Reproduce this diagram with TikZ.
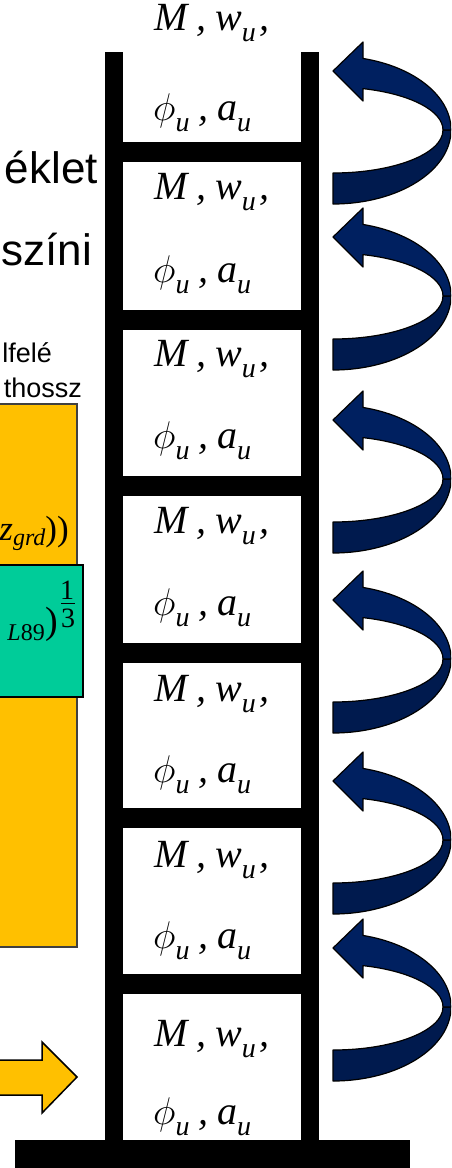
\documentclass[tikz,border=0pt]{standalone}
\usepackage{fontspec}
\usepackage{tikz}
\usetikzlibrary{positioning}
\usepackage{xcolor}

\newfontfamily\arl{Liberation Sans}
\newfontfamily\tms{Liberation Serif}
\definecolor{spinblue}{HTML}{002060}
\definecolor{spindark}{HTML}{001A4E}
\definecolor{boxorange}{HTML}{FFC000}
\definecolor{boxgreen}{HTML}{00CC99}
\newcommand{\subu}{\raisebox{-0.28em}{\fontsize{28}{28}\selectfont u}}
\newcommand{\gap}{\hspace{0.22em}}
\newcommand{\bigphi}{\scalebox{1.55}{$\phi$}}

\tikzset{
  cell/.style={anchor=base west, inner sep=0pt, font=\tms\itshape\fontsize{40}{42}\selectfont},
  slidebig/.style={anchor=base east, inner sep=0pt, font=\arl\fontsize{44}{50}\selectfont},
  slidesmall/.style={anchor=base east, inner sep=0pt, font=\arl\fontsize{27}{30}\selectfont},
  formula/.style={inner sep=0pt, font=\tms\fontsize{35}{40}\selectfont},
  twist/.style={draw=black, line width=1.2pt, line join=round},
}

\begin{document}
\begin{tikzpicture}[x=1pt, y=-1pt, >=stealth]

    \useasboundingbox (0,0) rectangle (451,1168);
    \clip (0,0) rectangle (451,1168);

    % slide text on the left
    \node[slidebig] (eklet) at (98,183) {éklet};
    \node[slidebig] (szini) at (92,265) {színi};
    \node[slidesmall] (lfele) at (52,362) {lfelé};
    \node[slidesmall] (thossz) at (82,397) {thossz};

    % formula boxes
    \draw[fill=boxorange, draw=black!75, line width=1.5pt] (-5,404) rectangle (77,947);
    \node[formula, anchor=base east] (zgrd) at (69,540)
        {\itshape z\raisebox{-5pt}{\fontsize{24}{24}\selectfont grd}\upshape))};
    \draw[fill=boxgreen, draw=black, line width=1.5pt] (-5,565) rectangle (83,697);
    \node[formula, anchor=base east, font=\tms\fontsize{38}{40}\selectfont] (paren) at (58,633) {)};
    \node[formula, anchor=base east, font=\tms\fontsize{24}{26}\selectfont] (lsub) at (45,640) {\itshape L\upshape 89};
    \node[formula, font=\tms\fontsize{28}{30}\selectfont] (one) at (67,590) {1};
    \node[formula, font=\tms\fontsize{28}{30}\selectfont] (three) at (68,618) {3};
    \draw[line width=1pt] (61,603.5) -- (75,603.5);

    % input arrow
    \draw[fill=boxorange, draw=black, line width=1.5pt, line join=miter]
        (-5,1060) -- (42,1060) -- (42,1042) -- (77,1077) -- (42,1113) -- (42,1095) -- (-5,1095) -- cycle;

    % ladder
    \fill[black] (105,52) rectangle (123,1140);
    \fill[black] (301,52) rectangle (319,1140);
    \foreach \y in {142,310,476,643,808,974}{
        \fill[black] (105,\y) rectangle (319,\y+20);
    }
    \fill[black] (15,1140) rectangle (410,1170);

    % state variables in each cell
    \foreach \i/\ym/\yp in {1/30/120, 2/199/282, 3/366/448, 4/533/615,
                            5/701/782, 6/867/948, 7/1046/1124}{
        \node[cell] (m\i) at (154,\ym) {M\gap,\gap w\subu\hspace{0.08em},};
        \node[cell] (p\i) at (153,\yp) {\bigphi\subu\gap,\gap a\subu};
    }

    % curved arrows on the right (tip height / half height of the loop)
    \foreach \t/\h in {67/63,233/63,416/63,596/63,777/63,944/63}{
        \begin{scope}[yshift=-\t pt]
            % lower band
            \draw[twist, fill=spindark]
                (333,\h+43) arc[start angle=90, end angle=0, x radius=110, y radius=43]
                -- (451,\h) arc[start angle=0, end angle=90, x radius=118, y radius=74]
                -- cycle;
            % upper band with head
            \draw[twist, fill=spinblue]
                (333,4) -- (363,-25) -- (363,{\h-74*0.967})
                arc[start angle=284.7, end angle=360, x radius=118, y radius=74]
                -- (443,\h)
                arc[start angle=360, end angle=285.8, x radius=110, y radius=43]
                -- (363,34) -- cycle;
        \end{scope}
    }

\end{tikzpicture}
\end{document}
